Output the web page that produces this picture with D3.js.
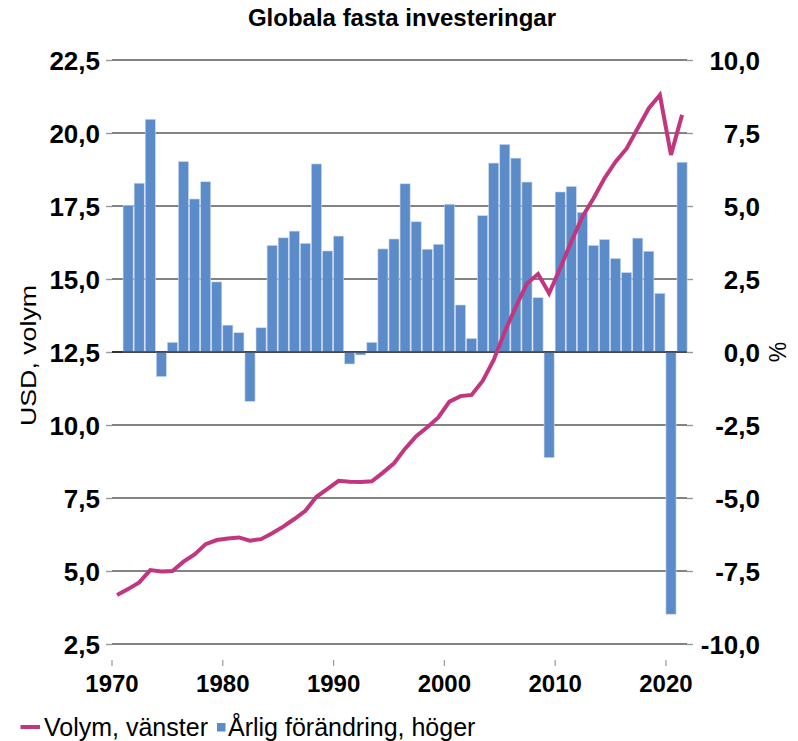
<!DOCTYPE html>
<html>
<head>
<meta charset="utf-8">
<script src="https://cdn.jsdelivr.net/npm/d3@7"></script>
<style>
  body { margin: 0; background: #fff; }
  svg text { font-family: "Liberation Sans", Arial, sans-serif; fill: #000; }
</style>
</head>
<body>
<svg id="chart" width="798" height="741"></svg>
<script>
// data
var lineYears = [1970, 1971, 1972, 1973, 1974, 1975, 1976, 1977, 1978, 1979,
                 1980, 1981, 1982, 1983, 1984, 1985, 1986, 1987, 1988, 1989,
                 1990, 1991, 1992, 1993, 1994, 1995, 1996, 1997, 1998, 1999,
                 2000, 2001, 2002, 2003, 2004, 2005, 2006, 2007, 2008, 2009,
                 2010, 2011, 2012, 2013, 2014, 2015, 2016, 2017, 2018, 2019,
                 2020, 2021];
var volym = [4.18, 4.38, 4.61, 5.03, 4.98, 5.00, 5.32, 5.57, 5.92, 6.06,
             6.11, 6.15, 6.04, 6.09, 6.29, 6.52, 6.78, 7.06, 7.54, 7.81,
             8.09, 8.06, 8.05, 8.07, 8.37, 8.69, 9.19, 9.62, 9.92, 10.26,
             10.80, 10.99, 11.03, 11.51, 12.23, 13.20, 14.05, 14.85, 15.17, 14.51,
             15.37, 16.28, 17.13, 17.76, 18.45, 19.02, 19.47, 20.16, 20.85, 21.30,
             19.25, 20.62];

var barYears = lineYears.slice(1); // 1971..2021
var forandring = [5.02, 5.78, 7.97, -0.84, 0.33, 6.52, 5.24, 5.83, 2.40, 0.92,
                  0.66, -1.69, 0.83, 3.65, 3.91, 4.14, 3.72, 6.44, 3.46, 3.97,
                  -0.41, -0.10, 0.33, 3.53, 3.87, 5.76, 4.46, 3.52, 3.69, 5.06,
                  1.61, 0.46, 4.67, 6.47, 7.11, 6.64, 5.82, 1.86, -3.62, 5.48,
                  5.67, 4.78, 3.65, 3.85, 3.20, 2.72, 3.90, 3.45, 2.01, -8.98,
                  6.50];

var leftTicks = [2.5, 5, 7.5, 10, 12.5, 15, 17.5, 20, 22.5];
var rightTicks = [-10, -7.5, -5, -2.5, 0, 2.5, 5, 7.5, 10];
var xTicks = [1970, 1980, 1990, 2000, 2010, 2020];

var titleText = "Globala fasta investeringar";
var leftLabel = "USD, volym";
var rightLabel = "%";
var legendNames = ["Volym, vänster", "Årlig förändring, höger"];

var lineColor = "#c2357f";
var barColor = "#5b8bc9";

var svg = d3.select("#chart");
var plotLeft = 112, plotRight = 687.6, plotTop = 60, plotBottom = 644;

var x = d3.scaleLinear().domain([1970, 2022]).range([plotLeft - 0.5, plotRight]);
var yL = d3.scaleLinear().domain([2.5, 22.5]).range([plotBottom, plotTop]);
var yR = d3.scaleLinear().domain([-10, 10]).range([plotBottom, plotTop]);

var sv = d3.formatLocale({decimal: ",", thousands: " ", grouping: [3], currency: ["", ""], minus: "-"});
var fmt = sv.format(".1f");

// title
svg.append("text")
  .attr("x", 402).attr("y", 26)
  .attr("text-anchor", "middle")
  .style("font-weight", "bold").style("font-size", "24px")
  .text(titleText);

// gridlines
svg.append("g").selectAll("line")
  .data(leftTicks).enter().append("line")
  .attr("x1", plotLeft).attr("x2", plotRight - 0.6)
  .attr("y1", function(d) { return yL(d); })
  .attr("y2", function(d) { return yL(d); })
  .attr("stroke", function(d) { return d === 12.5 ? "#222" : "#5a5a5a"; })
  .attr("stroke-width", 1.4);

// left axis
var gL = svg.append("g").attr("transform", "translate(" + plotLeft + ",0)")
  .call(d3.axisLeft(yL).tickValues(leftTicks).tickSize(6).tickPadding(6).tickFormat(fmt));
gL.select(".domain").remove();
gL.selectAll(".tick line").attr("stroke", "#999").attr("stroke-width", 1.4);
gL.selectAll(".tick text").style("font-size", "26px").style("font-weight", "bold")
  .attr("dy", "0.36em");

// right axis
var gR = svg.append("g").attr("transform", "translate(" + (plotRight - 0.6) + ",0)")
  .call(d3.axisRight(yR).tickValues(rightTicks).tickSize(6).tickFormat(fmt));
gR.select(".domain").remove();
gR.selectAll(".tick line").attr("stroke", "#999").attr("stroke-width", 1.4);
gR.selectAll(".tick text").style("font-size", "26px").style("font-weight", "bold")
  .attr("text-anchor", "end").attr("x", 73).attr("dy", "0.36em");

// x axis
var gX = svg.append("g").attr("transform", "translate(0,660)")
  .call(d3.axisBottom(x).tickValues(xTicks).tickSize(6).tickFormat(d3.format("d")));
gX.select(".domain").remove();
gX.selectAll(".tick line").attr("stroke", "#999").attr("stroke-width", 1.2);
gX.selectAll(".tick text").style("font-size", "24px").style("font-weight", "bold")
  .attr("y", 32).attr("dy", null);

// bars
var step = x(1971) - x(1970);
svg.append("g").selectAll("rect")
  .data(forandring).enter().append("rect")
  .attr("x", function(d, i) { return x(barYears[i] + 0.5) - (step - 1) / 2; })
  .attr("width", step - 1)
  .attr("y", function(d) { return yR(Math.max(0, d)); })
  .attr("height", function(d) { return Math.abs(yR(d) - yR(0)); })
  .attr("fill", barColor)
  .attr("stroke", "#c9d8ee").attr("stroke-width", 0.6);

// zero line on top of bars
svg.append("line")
  .attr("x1", plotLeft).attr("x2", plotRight - 0.6)
  .attr("y1", yR(0)).attr("y2", yR(0))
  .attr("stroke", "#111").attr("stroke-width", 1.2);

// volume line
var line = d3.line()
  .x(function(d, i) { return x(lineYears[i] + 0.5); })
  .y(function(d) { return yL(d); });
svg.append("path")
  .datum(volym)
  .attr("d", line)
  .attr("fill", "none")
  .attr("stroke", lineColor)
  .attr("stroke-width", 4)
  .attr("stroke-linejoin", "miter");

// axis titles
svg.append("text")
  .attr("transform", "translate(36,355.5) rotate(-90)")
  .attr("text-anchor", "middle")
  .attr("textLength", 141).attr("lengthAdjust", "spacingAndGlyphs")
  .style("font-size", "22px")
  .text(leftLabel);
svg.append("text")
  .attr("transform", "translate(786,352) rotate(-90)")
  .attr("text-anchor", "middle")
  .style("font-size", "23px")
  .text(rightLabel);

// legend
var lg = svg.append("g");
lg.append("line")
  .attr("x1", 20.5).attr("x2", 40).attr("y1", 727).attr("y2", 727)
  .attr("stroke", lineColor).attr("stroke-width", 4);
lg.append("text").attr("x", 44).attr("y", 736)
  .style("font-size", "25px").text(legendNames[0]);
lg.append("rect")
  .attr("x", 217).attr("y", 723).attr("width", 8.5).attr("height", 8.5)
  .attr("fill", barColor);
lg.append("text").attr("x", 228).attr("y", 736)
  .style("font-size", "25px").text(legendNames[1]);
</script>
</body>
</html>
